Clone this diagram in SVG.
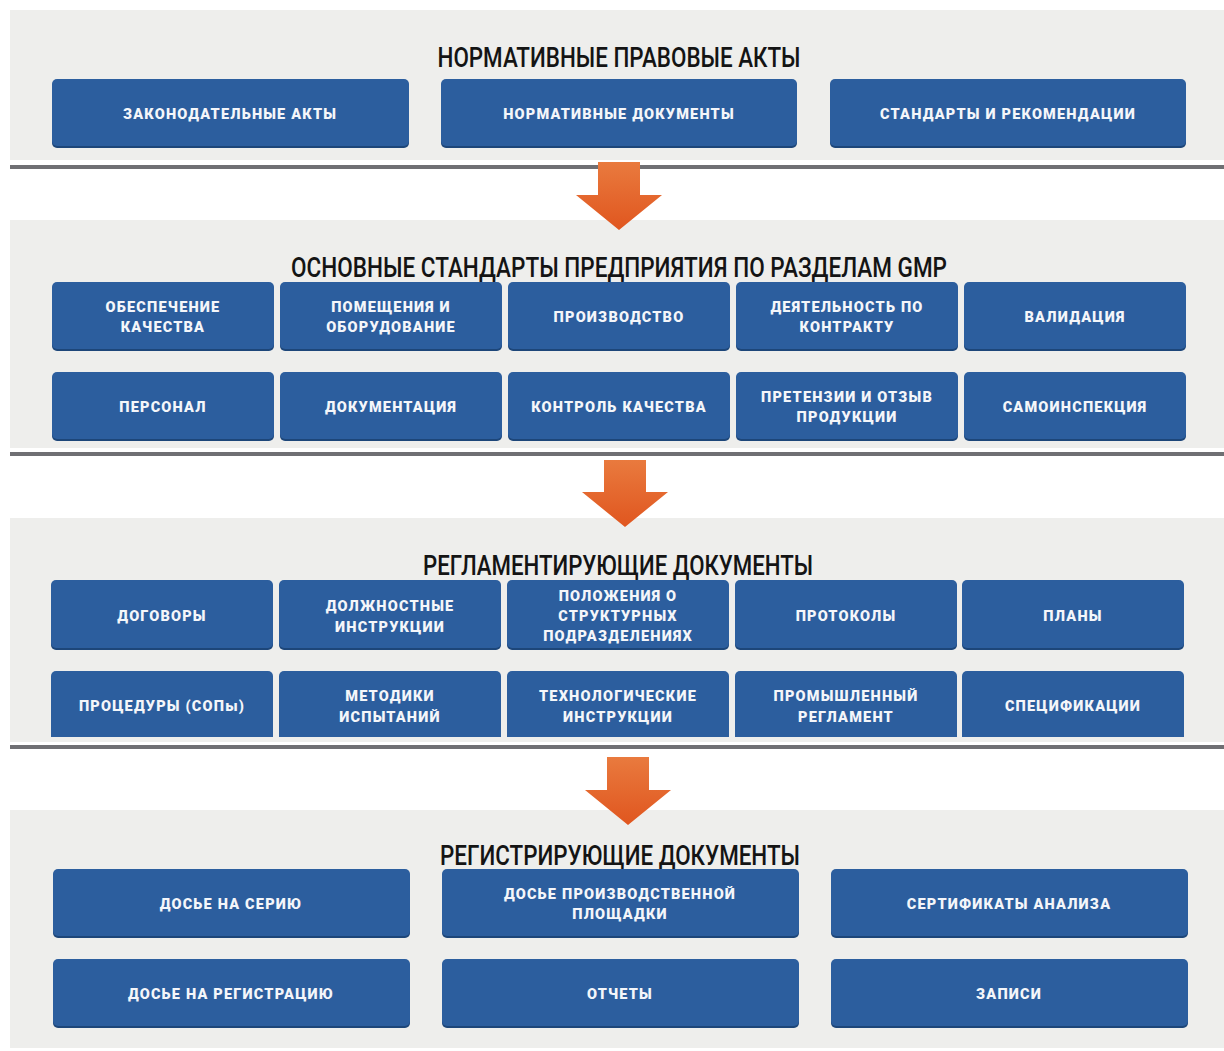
<svg xmlns="http://www.w3.org/2000/svg" width="1224" height="1051" viewBox="0 0 1224 1051">
<defs>
<linearGradient id="ag" x1="0" y1="0" x2="0" y2="1">
<stop offset="0" stop-color="#e97a3e"/>
<stop offset="1" stop-color="#e0561f"/>
</linearGradient>
<style>
.panel{fill:#eeeeec}
.sep{fill:#6f6f73}
.sh{fill:#1d4679}
.bx{fill:#2c5e9e}
.t{font-family:Roboto,"DejaVu Sans",sans-serif;font-weight:900;font-size:14.5px;letter-spacing:1.2px;fill:#f4f6fa;text-anchor:middle}
.h{font-family:Roboto,"Liberation Sans",sans-serif;font-weight:500;font-size:27px;fill:#141414;text-anchor:middle}
.arr{fill:url(#ag)}
</style>
</defs>
<rect width="1224" height="1051" fill="#ffffff"/>
<rect class="panel" x="10" y="10" width="1214" height="150"/>
<rect class="panel" x="10" y="220" width="1214" height="228"/>
<rect class="panel" x="10" y="518" width="1214" height="224"/>
<rect class="panel" x="10" y="810" width="1214" height="238"/>
<rect class="sep" x="10" y="165" width="1214" height="4"/>
<rect class="sep" x="10" y="452" width="1214" height="4"/>
<rect class="sep" x="10" y="745" width="1214" height="4"/>

<text class="h" x="619" y="67" textLength="363" lengthAdjust="spacingAndGlyphs">НОРМАТИВНЫЕ ПРАВОВЫЕ АКТЫ</text>
<text class="h" x="619" y="277" textLength="656" lengthAdjust="spacingAndGlyphs">ОСНОВНЫЕ СТАНДАРТЫ ПРЕДПРИЯТИЯ ПО РАЗДЕЛАМ GMP</text>
<text class="h" x="618" y="575" textLength="390" lengthAdjust="spacingAndGlyphs">РЕГЛАМЕНТИРУЮЩИЕ ДОКУМЕНТЫ</text>
<text class="h" x="620" y="865" textLength="360" lengthAdjust="spacingAndGlyphs">РЕГИСТРИРУЮЩИЕ ДОКУМЕНТЫ</text>

<g id="connectors">
<polygon class="arr" points="598,162 640,162 640,195 662,195 619,230 576,195 598,195"/>
<polygon class="arr" points="604,460 646,460 646,492 668,492 625,527 582,492 604,492"/>
<polygon class="arr" points="607,757 649,757 649,790 671,790 628,825 585,790 607,790"/>
</g>

<!-- Section 1 -->
<g id="n-zakon"><rect class="sh" x="52" y="81" width="357" height="67" rx="5"/><rect class="bx" x="52" y="79" width="357" height="67" rx="5"/><text class="t" x="230" y="119">ЗАКОНОДАТЕЛЬНЫЕ АКТЫ</text></g>
<g id="n-normdoc"><rect class="sh" x="441" y="81" width="356" height="67" rx="5"/><rect class="bx" x="441" y="79" width="356" height="67" rx="5"/><text class="t" x="619" y="119">НОРМАТИВНЫЕ ДОКУМЕНТЫ</text></g>
<g id="n-standart"><rect class="sh" x="830" y="81" width="356" height="67" rx="5"/><rect class="bx" x="830" y="79" width="356" height="67" rx="5"/><text class="t" x="1008" y="119">СТАНДАРТЫ И РЕКОМЕНДАЦИИ</text></g>

<!-- Section 2 row 1 -->
<g id="n-obesp"><rect class="sh" x="52" y="284" width="222" height="67" rx="5"/><rect class="bx" x="52" y="282" width="222" height="67" rx="5"/><text class="t" x="163" y="312">ОБЕСПЕЧЕНИЕ</text><text class="t" x="163" y="332">КАЧЕСТВА</text></g>
<g id="n-pomesh"><rect class="sh" x="280" y="284" width="222" height="67" rx="5"/><rect class="bx" x="280" y="282" width="222" height="67" rx="5"/><text class="t" x="391" y="312">ПОМЕЩЕНИЯ И</text><text class="t" x="391" y="332">ОБОРУДОВАНИЕ</text></g>
<g id="n-proizv"><rect class="sh" x="508" y="284" width="222" height="67" rx="5"/><rect class="bx" x="508" y="282" width="222" height="67" rx="5"/><text class="t" x="619" y="322">ПРОИЗВОДСТВО</text></g>
<g id="n-deyat"><rect class="sh" x="736" y="284" width="222" height="67" rx="5"/><rect class="bx" x="736" y="282" width="222" height="67" rx="5"/><text class="t" x="847" y="312">ДЕЯТЕЛЬНОСТЬ ПО</text><text class="t" x="847" y="332">КОНТРАКТУ</text></g>
<g id="n-valid"><rect class="sh" x="964" y="284" width="222" height="67" rx="5"/><rect class="bx" x="964" y="282" width="222" height="67" rx="5"/><text class="t" x="1075" y="322">ВАЛИДАЦИЯ</text></g>

<!-- Section 2 row 2 -->
<g id="n-personal"><rect class="sh" x="52" y="374" width="222" height="67" rx="5"/><rect class="bx" x="52" y="372" width="222" height="67" rx="5"/><text class="t" x="163" y="412">ПЕРСОНАЛ</text></g>
<g id="n-dokum"><rect class="sh" x="280" y="374" width="222" height="67" rx="5"/><rect class="bx" x="280" y="372" width="222" height="67" rx="5"/><text class="t" x="391" y="412">ДОКУМЕНТАЦИЯ</text></g>
<g id="n-kontrol"><rect class="sh" x="508" y="374" width="222" height="67" rx="5"/><rect class="bx" x="508" y="372" width="222" height="67" rx="5"/><text class="t" x="619" y="412">КОНТРОЛЬ КАЧЕСТВА</text></g>
<g id="n-pretenz"><rect class="sh" x="736" y="374" width="222" height="67" rx="5"/><rect class="bx" x="736" y="372" width="222" height="67" rx="5"/><text class="t" x="847" y="402">ПРЕТЕНЗИИ И ОТЗЫВ</text><text class="t" x="847" y="422">ПРОДУКЦИИ</text></g>
<g id="n-samoinsp"><rect class="sh" x="964" y="374" width="222" height="67" rx="5"/><rect class="bx" x="964" y="372" width="222" height="67" rx="5"/><text class="t" x="1075" y="412">САМОИНСПЕКЦИЯ</text></g>

<!-- Section 3 row 1 -->
<g id="n-dogovor"><rect class="sh" x="51" y="582" width="222" height="68" rx="5"/><rect class="bx" x="51" y="580" width="222" height="68" rx="5"/><text class="t" x="162" y="621">ДОГОВОРЫ</text></g>
<g id="n-dolzhn"><rect class="sh" x="279" y="582" width="222" height="68" rx="5"/><rect class="bx" x="279" y="580" width="222" height="68" rx="5"/><text class="t" x="390" y="611">ДОЛЖНОСТНЫЕ</text><text class="t" x="390" y="632">ИНСТРУКЦИИ</text></g>
<g id="n-polozh"><rect class="sh" x="507" y="582" width="222" height="68" rx="5"/><rect class="bx" x="507" y="580" width="222" height="68" rx="5"/><text class="t" x="618" y="601">ПОЛОЖЕНИЯ О</text><text class="t" x="618" y="621">СТРУКТУРНЫХ</text><text class="t" x="618" y="641">ПОДРАЗДЕЛЕНИЯХ</text></g>
<g id="n-protok"><rect class="sh" x="735" y="582" width="222" height="68" rx="5"/><rect class="bx" x="735" y="580" width="222" height="68" rx="5"/><text class="t" x="846" y="621">ПРОТОКОЛЫ</text></g>
<g id="n-plany"><rect class="sh" x="962" y="582" width="222" height="68" rx="5"/><rect class="bx" x="962" y="580" width="222" height="68" rx="5"/><text class="t" x="1073" y="621">ПЛАНЫ</text></g>

<!-- Section 3 row 2 (flat bottoms) -->
<g id="n-proced"><path class="bx" d="M51,737 V676 a5,5 0 0 1 5,-5 H268 a5,5 0 0 1 5,5 V737 Z"/><text class="t" x="162" y="711">ПРОЦЕДУРЫ (СОПы)</text></g>
<g id="n-metod"><path class="bx" d="M279,737 V676 a5,5 0 0 1 5,-5 H496 a5,5 0 0 1 5,5 V737 Z"/><text class="t" x="390" y="701">МЕТОДИКИ</text><text class="t" x="390" y="722">ИСПЫТАНИЙ</text></g>
<g id="n-tehnol"><path class="bx" d="M507,737 V676 a5,5 0 0 1 5,-5 H724 a5,5 0 0 1 5,5 V737 Z"/><text class="t" x="618" y="701">ТЕХНОЛОГИЧЕСКИЕ</text><text class="t" x="618" y="722">ИНСТРУКЦИИ</text></g>
<g id="n-promysh"><path class="bx" d="M735,737 V676 a5,5 0 0 1 5,-5 H952 a5,5 0 0 1 5,5 V737 Z"/><text class="t" x="846" y="701">ПРОМЫШЛЕННЫЙ</text><text class="t" x="846" y="722">РЕГЛАМЕНТ</text></g>
<g id="n-specif"><path class="bx" d="M962,737 V676 a5,5 0 0 1 5,-5 H1179 a5,5 0 0 1 5,5 V737 Z"/><text class="t" x="1073" y="711">СПЕЦИФИКАЦИИ</text></g>

<!-- Section 4 -->
<g id="n-dosseria"><rect class="sh" x="53" y="871" width="357" height="67" rx="5"/><rect class="bx" x="53" y="869" width="357" height="67" rx="5"/><text class="t" x="231" y="909">ДОСЬЕ НА СЕРИЮ</text></g>
<g id="n-dossploshch"><rect class="sh" x="442" y="871" width="357" height="67" rx="5"/><rect class="bx" x="442" y="869" width="357" height="67" rx="5"/><text class="t" x="620" y="899">ДОСЬЕ ПРОИЗВОДСТВЕННОЙ</text><text class="t" x="620" y="919">ПЛОЩАДКИ</text></g>
<g id="n-sertif"><rect class="sh" x="831" y="871" width="357" height="67" rx="5"/><rect class="bx" x="831" y="869" width="357" height="67" rx="5"/><text class="t" x="1009" y="909">СЕРТИФИКАТЫ АНАЛИЗА</text></g>
<g id="n-dossreg"><rect class="sh" x="53" y="961" width="357" height="67" rx="5"/><rect class="bx" x="53" y="959" width="357" height="67" rx="5"/><text class="t" x="231" y="999">ДОСЬЕ НА РЕГИСТРАЦИЮ</text></g>
<g id="n-otchety"><rect class="sh" x="442" y="961" width="357" height="67" rx="5"/><rect class="bx" x="442" y="959" width="357" height="67" rx="5"/><text class="t" x="620" y="999">ОТЧЕТЫ</text></g>
<g id="n-zapisi"><rect class="sh" x="831" y="961" width="357" height="67" rx="5"/><rect class="bx" x="831" y="959" width="357" height="67" rx="5"/><text class="t" x="1009" y="999">ЗАПИСИ</text></g>
</svg>
